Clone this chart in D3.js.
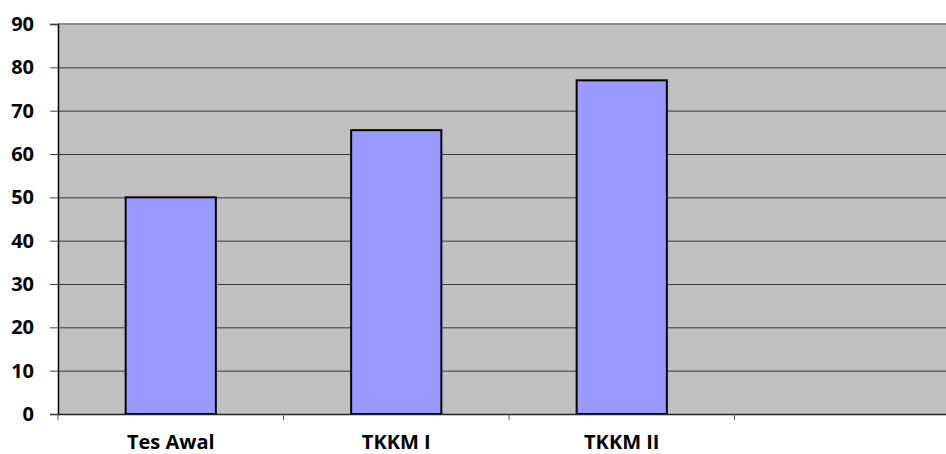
<!DOCTYPE html>
<html><head><meta charset="utf-8">
<script src="https://cdn.jsdelivr.net/npm/d3@7"></script>
<style>body{margin:0;background:#fff}svg{display:block}</style>
</head><body>
<svg id="c" width="946" height="454"></svg>
<script>
const categories = ["Tes Awal", "TKKM I", "TKKM II", ""];
const values = [50, 65.5, 77, null];
const yTicks = [0, 10, 20, 30, 40, 50, 60, 70, 80, 90];

(function () {
const svg = d3.select("#c");
const pL = 58, pR = 960, pT = 24, pB = 414;
const x = d3.scaleBand().domain(d3.range(categories.length)).range([pL, pR]).paddingInner(0).paddingOuter(0);
const y = d3.scaleLinear().domain([0, 90]).range([pB, pT]);
const font = "'Open Sans', 'Liberation Sans', sans-serif";

svg.append("rect").attr("x", pL).attr("y", pT).attr("width", pR - pL).attr("height", pB - pT).attr("fill", "#c0c0c0");

// gridlines
svg.append("g").selectAll("line").data(yTicks.filter(d => d > 0 && d < 90)).join("line")
  .attr("x1", pL).attr("x2", pR).attr("y1", d => y(d) + 0.5).attr("y2", d => y(d) + 0.5)
  .attr("stroke", "#3a3a3a").attr("stroke-width", 1);
svg.append("line").attr("x1", pL).attr("x2", pR).attr("y1", y(90)).attr("y2", y(90))
  .attr("stroke", "#8a8a8a").attr("stroke-width", 2);

// bars
const bw = x.bandwidth() * 0.4;
svg.append("g").selectAll("rect").data(values.map((v, i) => ({v, i})).filter(d => d.v != null)).join("rect")
  .attr("x", d => x(d.i) + (x.bandwidth() - bw) / 2).attr("width", bw)
  .attr("y", d => y(d.v)).attr("height", d => y(0) - y(d.v))
  .attr("fill", "#9999ff").attr("stroke", "#000").attr("stroke-width", 2);

// y axis
const ya = svg.append("g").attr("transform", `translate(${pL},0)`)
  .call(d3.axisLeft(y).tickValues(yTicks).tickSize(8).tickPadding(16).tickFormat(d3.format("d")));
ya.select(".domain").attr("stroke", "#000").attr("stroke-width", 1.5);
ya.selectAll(".tick line").attr("stroke", "#444");
ya.selectAll("text").attr("font-family", font).attr("font-weight", "bold").attr("font-size", 20).attr("fill", "#000");

// x axis
const xa = svg.append("g").attr("transform", `translate(0,${pB})`);
xa.append("line").attr("x1", pL).attr("x2", pR).attr("y1", 0.5).attr("y2", 0.5).attr("stroke", "#222").attr("stroke-width", 1.5);
const bounds = d3.range(categories.length + 1).map(i => pL + i * x.step());
xa.selectAll(".tk").data(bounds).join("line").attr("class", "tk")
  .attr("x1", d => d).attr("x2", d => d).attr("y1", 0).attr("y2", 6).attr("stroke", "#555");
xa.selectAll("text").data(categories).join("text")
  .attr("x", (d, i) => x(i) + x.bandwidth() / 2).attr("y", 35)
  .attr("text-anchor", "middle").attr("font-family", font).attr("font-weight", "bold").attr("font-size", 20)
  .text(d => d);
})();
</script>
</body></html>
